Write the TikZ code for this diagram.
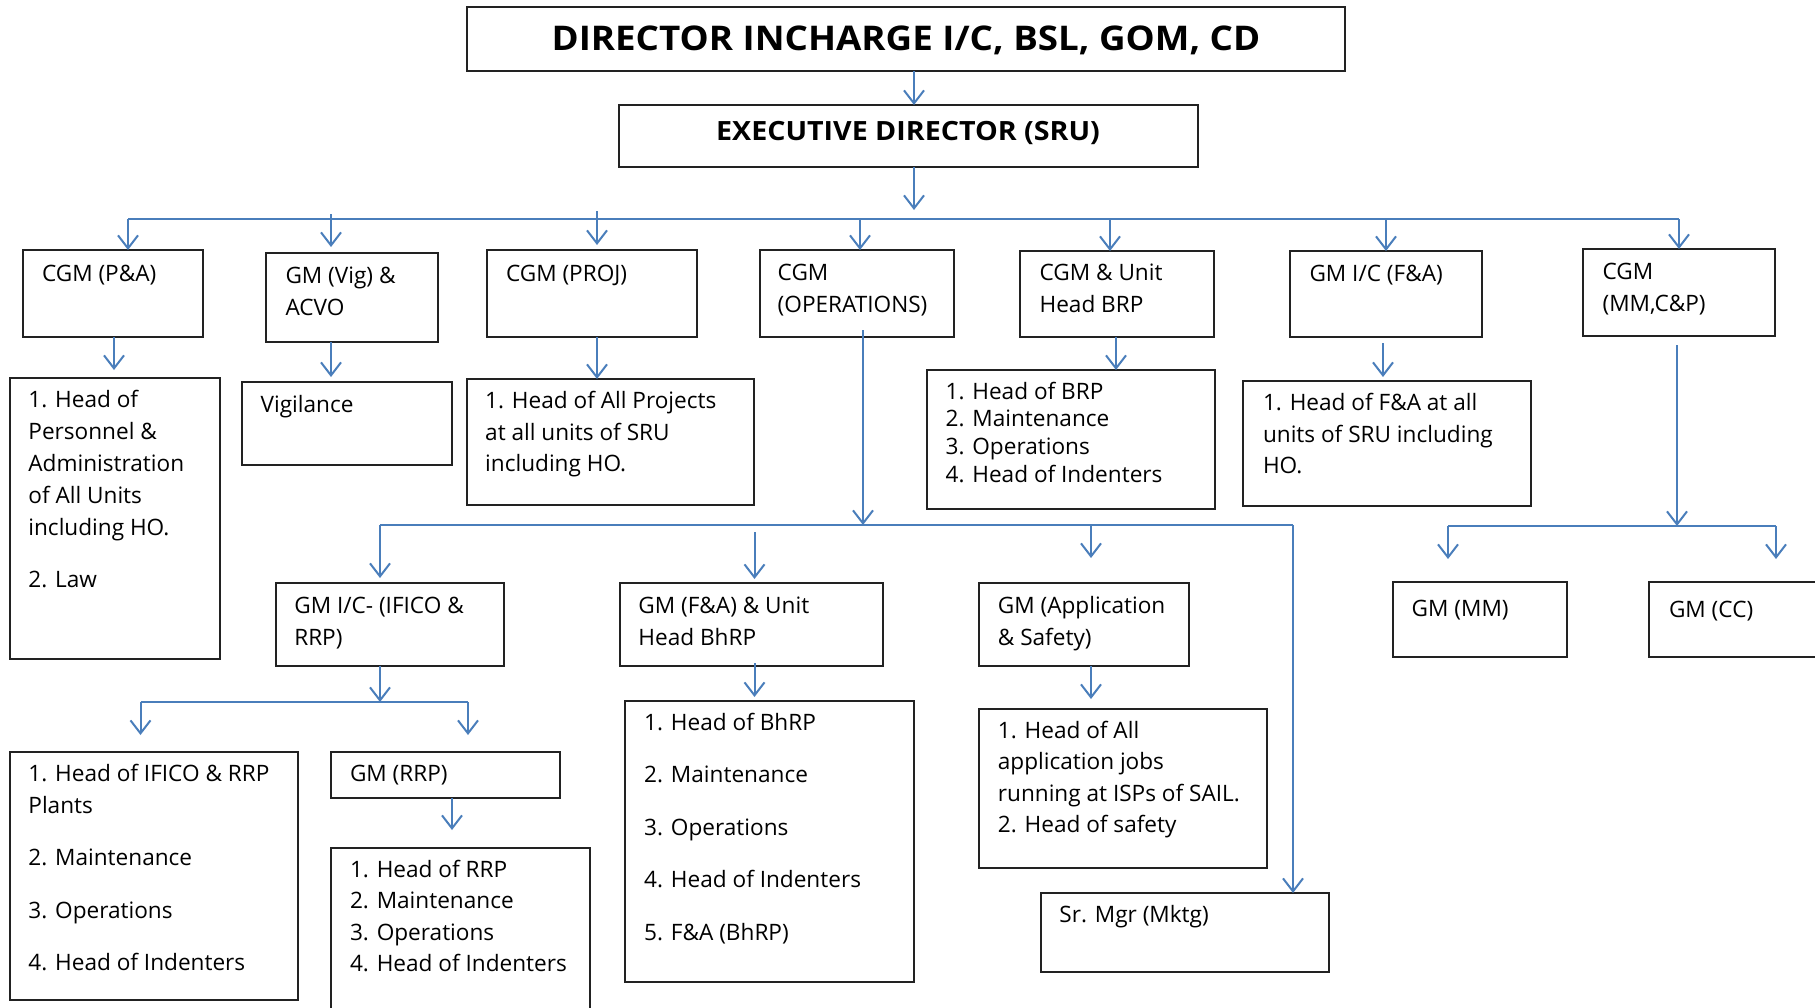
\documentclass[tikz,border=0pt]{standalone}
\usepackage{fontspec}
\setmainfont{Open Sans}
\newfontfamily\headfont[FakeStretch=1.08]{Open Sans}
\usetikzlibrary{arrows.meta,fit}
\definecolor{lnk}{HTML}{4A7EBB}
\definecolor{edge}{HTML}{222222}
% stacked lines with a fixed baseline distance; the first baseline is the node's base
\newcommand\stk[2]{\vtop{\baselineskip=#1\lineskiplimit=-100pt\relax\def\ro##1{\hbox{##1}}#2}}
\begin{document}
\begin{tikzpicture}[x=0.5pt,y=-0.5pt,
  box/.style={draw=edge,line width=1pt,inner sep=0pt,outer sep=0pt},
  txt/.style={anchor=base west,inner sep=0pt,outer sep=0pt,font=\fontsize{11.3}{14}\selectfont},
  head/.style={anchor=base,inner sep=0pt,outer sep=0pt},
  link/.style={draw=lnk,line width=1pt},
  arr/.style={link,-{Straight Barb[length=6.5pt,width=10pt,line width=1pt]}},
]
\useasboundingbox (0,0) rectangle (1815,1007);
\clip (0,0) rectangle (1815,1007);

% ---------- boxes ----------
\node[box,fit={(467,7) (1345,71)}] (dir) {};
\node[box,fit={(619,105) (1198,167)}] (exe) {};

\node[box,fit={(23,250) (203,337)}] (pa) {};
\node[box,fit={(266,253) (438,342)}] (vig) {};
\node[box,fit={(487,250) (697,337)}] (proj) {};
\node[box,fit={(760,250) (954,337)}] (ops) {};
\node[box,fit={(1020,251) (1214,337)}] (brp) {};
\node[box,fit={(1290,251) (1482,337)}] (fa) {};
\node[box,fit={(1583,249) (1775,336)}] (mm) {};

\node[box,fit={(10,378) (220,659)}] (pai) {};
\node[box,fit={(242,382) (452,465)}] (vigi) {};
\node[box,fit={(467,379) (754,505)}] (proji) {};
\node[box,fit={(927,370) (1215,509)}] (brpi) {};
\node[box,fit={(1243,381) (1531,506)}] (fai) {};

\node[box,fit={(276,583) (504,666)}] (ific) {};
\node[box,fit={(620,583) (883,666)}] (bhrp) {};
\node[box,fit={(979,583) (1189,666)}] (app) {};
\node[box,fit={(1393,582) (1567,657)}] (gmmm) {};
\node[box,fit={(1649,582) (1840,657)}] (gmcc) {};

\node[box,fit={(10,752) (298,1000)}] (ifici) {};
\node[box,fit={(331,752) (560,798)}] (rrp) {};
\node[box,fit={(331,848) (590,1040)}] (rrpi) {};
\node[box,fit={(625,701) (914,982)}] (bhrpi) {};
\node[box,fit={(979,709) (1267,868)}] (appi) {};
\node[box,fit={(1041,893) (1329,972)}] (mktg) {};

% ---------- texts ----------
\node[head,font=\headfont\bfseries\fontsize{17}{20}\selectfont] (dir-t) at (906,50.7) {DIRECTOR INCHARGE I/C, BSL, GOM, CD};
\node[head,font=\headfont\bfseries\fontsize{13.25}{16}\selectfont] (exe-t) at (908,140.7) {EXECUTIVE DIRECTOR (SRU)};

\node[txt] (pa-t) at (42,281) {CGM (P\&A)};
\node[txt] (vig-t) at (285.5,283.3) {\stk{15.85pt}{\ro{GM (Vig) \&}\ro{ACVO}}};
\node[txt] (proj-t) at (506,281.7) {CGM (PROJ)};
\node[txt] (ops-t) at (777.7,280) {\stk{16pt}{\ro{CGM}\ro{(OPERATIONS)}}};
\node[txt] (brp-t) at (1039.6,280) {\stk{16pt}{\ro{CGM \& Unit}\ro{Head BRP}}};
\node[txt] (fa-t) at (1309.5,281.7) {GM I/C (F\&A)};
\node[txt] (mm-t) at (1602.6,279.3) {\stk{16pt}{\ro{CGM}\ro{(MM,C\&P)}}};

\node[txt] (pai-t) at (28.4,407.3) {\stk{16pt}{\ro{1. Head of}\ro{Personnel \&}\ro{Administration}\ro{of All Units}\ro{including HO.}\vskip10.15pt\ro{2. Law}}};
\node[txt] (vigi-t) at (260.6,412.7) {Vigilance};
\node[txt] (proji-t) at (485.2,408.3) {\stk{15.85pt}{\ro{1. Head of All Projects}\ro{at all units of SRU}\ro{including HO.}}};
\node[txt] (brpi-t) at (945.6,399) {\stk{13.95pt}{\ro{1. Head of BRP}\ro{2. Maintenance}\ro{3. Operations}\ro{4. Head of Indenters}}};
\node[txt] (fai-t) at (1263,410.7) {\stk{15.65pt}{\ro{1. Head of F\&A at all}\ro{units of SRU including}\ro{HO.}}};

\node[txt] (ific-t) at (294.3,613.3) {\stk{15.85pt}{\ro{GM I/C- (IFICO \&}\ro{RRP)}}};
\node[txt] (bhrp-t) at (638.4,613.3) {\stk{15.85pt}{\ro{GM (F\&A) \& Unit}\ro{Head BhRP}}};
\node[txt] (app-t) at (997.9,613.3) {\stk{15.85pt}{\ro{GM (Application}\ro{\& Safety)}}};
\node[txt] (gmmm-t) at (1411.7,616) {GM (MM)};
\node[txt] (gmcc-t) at (1669,617) {GM (CC)};

\node[txt] (ifici-t) at (28.4,781.7) {\stk{15.8pt}{\ro{1. Head of IFICO \& RRP}\ro{Plants}\vskip10.4pt\ro{2. Maintenance}\vskip10.4pt\ro{3. Operations}\vskip10.4pt\ro{4. Head of Indenters}}};
\node[txt] (rrp-t) at (350,781.7) {GM (RRP)};
\node[txt] (rrpi-t) at (350,877.3) {\stk{15.75pt}{\ro{1. Head of RRP}\ro{2. Maintenance}\ro{3. Operations}\ro{4. Head of Indenters}}};
\node[txt] (bhrpi-t) at (644.2,730) {\stk{26.25pt}{\ro{1. Head of BhRP}\ro{2. Maintenance}\ro{3. Operations}\ro{4. Head of Indenters}\ro{5. F\&A (BhRP)}}};
\node[txt] (appi-t) at (997.9,738.3) {\stk{15.75pt}{\ro{1. Head of All}\ro{application jobs}\ro{running at ISPs of SAIL.}\ro{2. Head of safety}}};
\node[txt] (mktg-t) at (1059.4,922.7) {Sr. Mgr (Mktg)};

% ---------- connector guides ----------
\coordinate (trunk) at (914,0);
\coordinate (trunkTip) at (914,210);
\coordinate (busL) at (128,219);
\coordinate (busR) at (1679,219);
\coordinate (vigTop) at (331,214);  \coordinate (vigTip) at (331,247);
\coordinate (projTop) at (597,211); \coordinate (projTip) at (597,245);
\coordinate (xops) at (860,0);
\coordinate (xbrp) at (1110,0);
\coordinate (xfa) at (1386,0);

\coordinate (paTip) at (114,370);   \coordinate (xpa) at (114,0);
\coordinate (vigiTip) at (331,377); \coordinate (xvig) at (331,0);
\coordinate (xproj) at (597,0);
\coordinate (xbrp2) at (1116,0);
\coordinate (faTop) at (1383,343);  \coordinate (faTip) at (1383,377);
\coordinate (mmTop) at (1677,345);
\coordinate (mbL) at (1448,526);    \coordinate (mbR) at (1776,526);
\coordinate (mmTipL) at (1448,559); \coordinate (mmTipR) at (1776,559);

\coordinate (opsTop) at (863,330);
\coordinate (obL) at (380,525);     \coordinate (obR) at (1293,525);
\coordinate (ificTip) at (380,578);
\coordinate (bhrpTop) at (754.5,532); \coordinate (bhrpTip) at (754.5,579);
\coordinate (appTip) at (1091,558);

\coordinate (ibus) at (380,702);
\coordinate (ibL) at (140.5,702);   \coordinate (ibR) at (468,702);
\coordinate (ibTipL) at (140.5,735); \coordinate (ibTipR) at (468,735);
\coordinate (xrrp) at (452,0);      \coordinate (rrpTip) at (452,830);
\coordinate (bhrpBot) at (754.5,663); \coordinate (bhrpiTip) at (754.5,697);
\coordinate (xapp) at (1091,0);     \coordinate (appiTip) at (1091,699);

% ---------- connectors ----------
\draw[arr] (trunk |- dir.south) -- (trunk |- exe.north);
\draw[arr] (trunk |- exe.south) -- (trunkTip);
\draw[link] (busL) -- (busR);
\draw[arr] (busL) -- (busL |- pa.north);
\draw[arr] (vigTop) -- (vigTip);
\draw[arr] (projTop) -- (projTip);
\draw[arr] (xops |- busL) -- (xops |- ops.north);
\draw[arr] (xbrp |- busL) -- (xbrp |- brp.north);
\draw[arr] (xfa |- busL) -- (xfa |- fa.north);
\draw[arr] (busR) -- (busR |- mm.north);

\draw[arr] (xpa |- pa.south) -- (paTip);
\draw[arr] (xvig |- vig.south) -- (vigiTip);
\draw[arr] (xproj |- proj.south) -- (xproj |- proji.north);
\draw[arr] (xbrp2 |- brp.south) -- (xbrp2 |- brpi.north);
\draw[arr] (faTop) -- (faTip);
\draw[arr] (mmTop) -- (mmTop |- mbL);
\draw[link] (mbL) -- (mbR);
\draw[arr] (mbL) -- (mmTipL);
\draw[arr] (mbR) -- (mmTipR);

\draw[arr] (opsTop) -- (opsTop |- obL);
\draw[link] (obL) -- (obR);
\draw[arr] (obR) -- (obR |- mktg.north);
\draw[arr] (obL) -- (ificTip);
\draw[arr] (bhrpTop) -- (bhrpTip);
\draw[arr] (appTip |- obL) -- (appTip);

\draw[arr] (ibus |- ific.south) -- (ibus);
\draw[link] (ibL) -- (ibR);
\draw[arr] (ibL) -- (ibTipL);
\draw[arr] (ibR) -- (ibTipR);
\draw[arr] (xrrp |- rrp.south) -- (rrpTip);
\draw[arr] (bhrpBot) -- (bhrpiTip);
\draw[arr] (xapp |- app.south) -- (appiTip);
\end{tikzpicture}
\end{document}
